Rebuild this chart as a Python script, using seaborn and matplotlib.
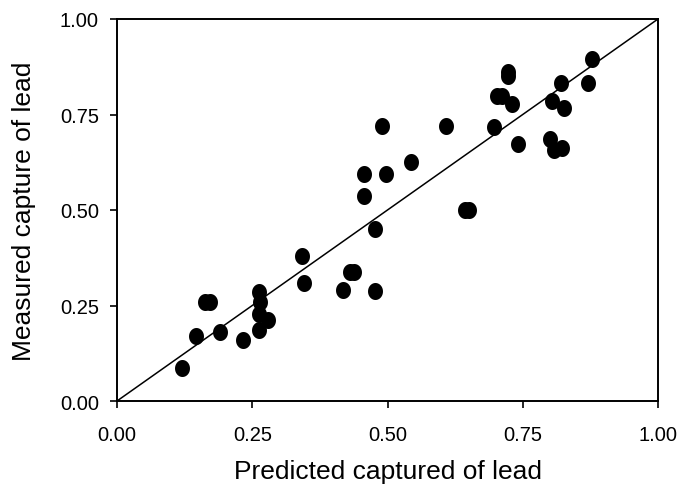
import numpy as np
import pandas as pd
import seaborn as sns
import matplotlib
matplotlib.use('Agg')
import matplotlib.pyplot as plt
from matplotlib.path import Path

# predicted vs measured capture of lead
predicted = [0.121, 0.146, 0.163, 0.172, 0.191, 0.232, 0.262, 0.262, 0.265, 0.262,
             0.280, 0.342, 0.346, 0.417, 0.430, 0.438, 0.476, 0.476, 0.456, 0.457,
             0.490, 0.498, 0.543, 0.608, 0.644, 0.651, 0.697, 0.703, 0.711, 0.723,
             0.723, 0.731, 0.742, 0.801, 0.808, 0.823, 0.804, 0.820, 0.827, 0.871,
             0.878]
measured = [0.086, 0.169, 0.258, 0.258, 0.180, 0.159, 0.186, 0.285, 0.258, 0.228,
            0.212, 0.379, 0.308, 0.291, 0.337, 0.337, 0.289, 0.451, 0.537, 0.593,
            0.721, 0.595, 0.626, 0.721, 0.501, 0.501, 0.716, 0.799, 0.799, 0.850,
            0.860, 0.778, 0.673, 0.685, 0.657, 0.661, 0.785, 0.832, 0.768, 0.832,
            0.895]
ticks = [0.00, 0.25, 0.50, 0.75, 1.00]
tick_labels = ['0.00', '0.25', '0.50', '0.75', '1.00']

df = pd.DataFrame({'predicted': predicted, 'measured': measured})

sns.set_style('ticks')
plt.rcParams['font.family'] = ['Liberation Sans', 'DejaVu Sans']
plt.rcParams['axes.labelcolor'] = 'black'
plt.rcParams['text.color'] = 'black'

# slightly taller-than-wide dot, like the original
t = np.linspace(0, 2 * np.pi, 60)
ellipse = Path(np.column_stack([0.88 * np.cos(t), np.sin(t)]), closed=True)

fig = plt.figure(figsize=(6.81, 4.89), dpi=100)
ax = fig.add_axes([117 / 681, 1 - 402 / 489, 541 / 681, 382 / 489])

# 1:1 line
sns.lineplot(x=[0, 1], y=[0, 1], color='black', linewidth=1.1, ax=ax)
sns.scatterplot(data=df, x='predicted', y='measured', color='black', s=150,
                marker=ellipse, edgecolor='black', linewidth=0, ax=ax, zorder=3)

ax.set_xlim(0, 1)
ax.set_ylim(0, 1)
ax.set_xticks(ticks)
ax.set_xticklabels(tick_labels)
ax.set_yticks(ticks)
ax.set_yticklabels(tick_labels)
ax.tick_params(direction='out', length=5, width=1.2, labelsize=14.5, colors='black')
ax.tick_params(axis='x', pad=12)
ax.tick_params(axis='y', pad=8)
for sp in ax.spines.values():
    sp.set_linewidth(1.4)
    sp.set_color('black')
ax.set_xlabel('Predicted captured of lead', fontsize=19, labelpad=11)
ax.set_ylabel('Measured capture of lead', fontsize=19, labelpad=17)

fig.savefig('out.png', dpi=100)
